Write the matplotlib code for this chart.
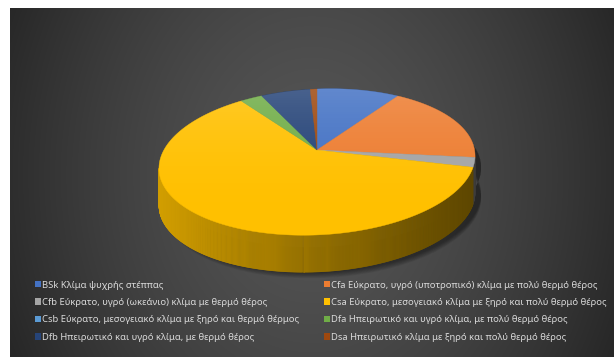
import matplotlib

matplotlib.use("Agg")

import matplotlib.pyplot as plt
import numpy as np
from matplotlib.collections import PolyCollection
from matplotlib.colors import to_rgb
from matplotlib.patches import Patch, Polygon
from matplotlib.path import Path

# Köppen classes and their share of the area (%)
codes = ["BSk", "Cfa", "Cfb", "Csa", "Csb", "Dfa", "Dfb", "Dsa"]
labels = [
	"BSk Κλίμα ψυχρής στέππας",
	"Cfa Εύκρατο, υγρό (υποτροπικό) κλίμα με πολύ θερμό θέρος",
	"Cfb Εύκρατο, υγρό (ωκεάνιο) κλίμα με θερμό θέρος",
	"Csa Εύκρατο, μεσογειακό κλίμα με ξηρό και πολύ θερμό θέρος",
	"Csb Εύκρατο, μεσογειακό κλίμα με ξηρό και θερμό θέρμος",
	"Dfa Ηπειρωτικό και υγρό κλίμα, με πολύ θερμό θέρος",
	"Dfb Ηπειρωτικό και υγρό κλίμα, με θερμό θέρος",
	"Dsa Ηπειρωτικό κλίμα με ξηρό και πολύ θερμό θέρος",
]
shares = [10.0, 18.0, 2.1, 60.6, 0.0, 2.6, 5.9, 0.8]
colors = ["#4472C4", "#ED7D31", "#A5A5A5", "#FFC000", "#5B9BD5", "#70AD47", "#264478", "#9E480E"]

W, H = 614, 358
CX, CY = 317.0, 150.0          # apex of the pie
RY, RX, PERSP = 71.0, 155.9, 0.164
SKEW = -0.04
DEPTH = 37.0


def project(theta):
	"""theta in degrees, clockwise from 12 o'clock -> pixel coords on the top face rim."""
	t = np.radians(theta)
	u, v = np.sin(t), np.cos(t)
	d = 1.0 + PERSP * v
	x = CX + RX * u / d
	y = CY - RY * v / d + SKEW * (RX * u / d)
	return x, y


fig = plt.figure(figsize=(W / 100, H / 100), dpi=100)
fig.patch.set_facecolor("white")
ax = fig.add_axes([0, 0, 1, 1])
ax.set_xlim(0, W)
ax.set_ylim(H, 0)
ax.axis("off")

# dark radial background
x0, x1, y0, y1 = 10, 614, 8, 357
xx, yy = np.meshgrid(np.linspace(x0, x1, 300), np.linspace(y0, y1, 180))
r = np.sqrt(((xx - 312) / 340) ** 2 + ((yy - 175) / 420) ** 2)
val = (85 - 47 * np.clip(r, 0, 1.1) ** 1.5) / 255.0
bg = np.dstack([val, val, val])
ax.imshow(bg, extent=(x0, x1, y1, y0), aspect="auto", zorder=0, interpolation="bilinear")

# slice boundaries
bounds = np.concatenate([[0.0], np.cumsum(shares) / np.sum(shares) * 360.0])

# silhouette of the side wall
grid = np.linspace(0, 360, 3601)
gx, gy = project(grid)
right_t, left_t = grid[np.argmax(gx)], grid[np.argmin(gx)]

# soft shadow under the pie
sh_t = np.linspace(right_t - 20, left_t + 20, 200)
sx, sy = project(sh_t)
for spread in np.linspace(10, 1, 8):
	poly = np.column_stack([
		np.concatenate([sx + 6, (sx + 6)[::-1]]),
		np.concatenate([sy + DEPTH + spread * 0.6, (sy + DEPTH - 25)[::-1]]),
	])
	ax.add_patch(Polygon(poly, closed=True, facecolor="black", alpha=0.06, edgecolor="none", zorder=1))

# side wall, shaded from left (lit) to right (dark)
side_t = np.linspace(right_t, left_t, 500)
quads, qcols = [], []
for a, b in zip(side_t[:-1], side_t[1:]):
	mid = 0.5 * (a + b)
	idx = np.searchsorted(bounds, mid, side="right") - 1
	idx = min(max(idx, 0), len(shares) - 1)
	xa, ya = project(a)
	xb, yb = project(b)
	quads.append([(xa, ya), (xb, yb), (xb, yb + DEPTH), (xa, ya + DEPTH)])
	xm = 0.5 * (xa + xb)
	f = 0.82 - (xm - 159) / (475 - 159) * 0.46
	base = np.array(to_rgb(colors[idx]))
	qcols.append(np.clip(base * f, 0, 1))
ax.add_collection(PolyCollection(quads, facecolors=qcols, edgecolors=qcols, linewidths=0.4, zorder=2))

# top face slices
for i, (a, b) in enumerate(zip(bounds[:-1], bounds[1:])):
	if b - a <= 0:
		continue
	ts = np.linspace(a, b, max(int((b - a) * 2), 3))
	px, py = project(ts)
	pts = np.column_stack([np.concatenate([[CX], px]), np.concatenate([[CY], py])])
	ax.add_patch(Polygon(pts, closed=True, facecolor=colors[i], edgecolor=colors[i], linewidth=0.3, zorder=3))

# light sheen on the top face, stronger towards the back
rim_x, rim_y = project(np.linspace(0, 360, 361))
top_path = Path(np.column_stack([rim_x, rim_y]))
gy_top = np.linspace(0, 1, 100)[:, None] * np.ones((1, 10))
sheen = np.zeros((100, 10, 4))
sheen[..., :3] = 1.0
sheen[..., 3] = 0.16 * (1 - gy_top) ** 2
im = ax.imshow(sheen, extent=(rim_x.min(), rim_x.max(), rim_y.max(), rim_y.min()), aspect="auto", zorder=4)
im.set_clip_path(top_path, transform=ax.transData)

# legend, two columns
fs = 6.8
handles = [Patch(facecolor=c, edgecolor="none") for c in colors]
left_idx = [0, 2, 4, 6]
right_idx = [1, 3, 5, 7]
common = dict(
	loc="upper left",
	bbox_transform=ax.transData,
	frameon=False,
	handlelength=0.68,
	handleheight=0.68,
	handletextpad=0.1,
	labelspacing=0.9,
	borderpad=0,
	borderaxespad=0,
	labelcolor="#d9d9d9",
	prop={"family": "Noto Sans", "size": fs},
)
leg1 = ax.legend([handles[i] for i in left_idx], [labels[i] for i in left_idx],
	bbox_to_anchor=(34.5, 280.5), **common)
ax.add_artist(leg1)
ax.legend([handles[i] for i in right_idx], [labels[i] for i in right_idx],
	bbox_to_anchor=(323.5, 280.5), **common)

fig.savefig("out.png", dpi=100)
